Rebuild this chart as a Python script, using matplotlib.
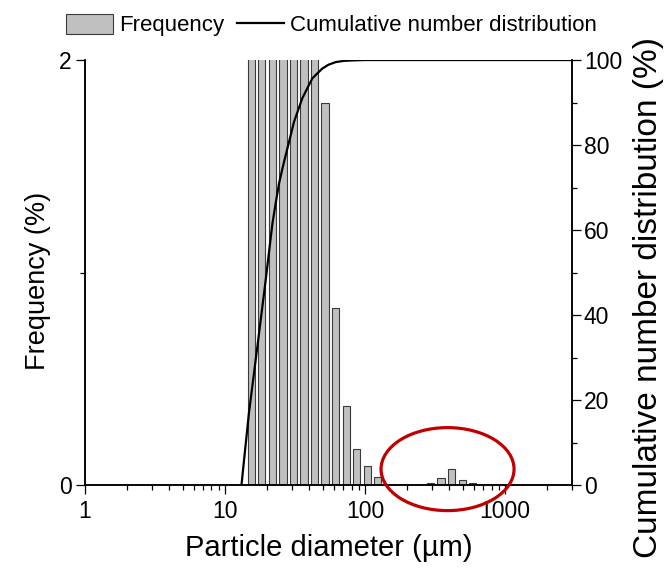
import numpy as np
import matplotlib
matplotlib.use('Agg')
import matplotlib.pyplot as plt
from matplotlib.patches import Ellipse, Patch
from matplotlib.lines import Line2D
from matplotlib.ticker import LogLocator, NullFormatter, FixedLocator

plt.rcParams['font.family'] = ['Liberation Sans', 'DejaVu Sans']

# Size classes (um), quarter-octave bins
diameter = [15.4, 18.3, 21.8, 25.9, 30.8, 36.6, 43.6, 51.8, 61.6, 73.3, 87.1,
            103.6, 123.2, 146.5, 174.2, 207.2, 246.4, 293.0, 348.5, 414.4,
            492.8, 586.1]
# Frequency (%) - the first seven bars run off the top of the axis
frequency = [16.0, 25.0, 20.0, 14.0, 9.0, 5.5, 3.5, 1.80, 0.834, 0.372, 0.170,
             0.090, 0.040, 0.0, 0.0, 0.0, 0.0, 0.008, 0.035, 0.075, 0.025, 0.008]

# Cumulative number distribution (%)
cum_d = [13.1, 14.8, 17.0, 19.5, 21.8, 23.2, 24.3, 25.7, 27.1, 31.1, 35.6,
         42.0, 49.5, 54.8, 61.5, 70.2, 80.9, 100.7, 3000]
cum_v = [0.0, 16.9, 32.5, 48.2, 61.6, 67.1, 71.0, 74.5, 77.6, 85.5, 91.0,
         95.7, 98.0, 98.9, 99.5, 99.8, 99.9, 100.0, 100.0]

fig = plt.figure(figsize=(6.66, 5.7), dpi=100)
ax = fig.add_axes([0.1276, 0.1491, 0.7313, 0.7456])
ax2 = ax.twinx()

d = np.array(diameter)
half = 10 ** 0.026
left = d / half
width = d * half - left
ax.bar(left, frequency, width=width, align='edge', color='#c0c0c0',
       edgecolor='#3a3a3a', linewidth=0.8, zorder=2)

ax2.plot(cum_d, cum_v, color='black', linewidth=1.6, zorder=3)

ax.set_xscale('log')
ax.set_xlim(1, 3000)
ax.set_ylim(0, 2)
ax2.set_ylim(0, 100)

ax.xaxis.set_major_locator(FixedLocator([1, 10, 100, 1000]))
ax.set_xticklabels(['1', '10', '100', '1000'])
ax.xaxis.set_minor_locator(LogLocator(base=10, subs=np.arange(2, 10)))
ax.xaxis.set_minor_formatter(NullFormatter())

ax.set_yticks([0, 2])
ax.set_yticks([1], minor=True)
ax2.set_yticks([0, 20, 40, 60, 80, 100])
ax2.set_yticks([10, 30, 50, 70, 90], minor=True)

for a in (ax, ax2):
    a.spines['top'].set_visible(False)
    for s in a.spines.values():
        s.set_linewidth(1.1)
    a.tick_params(which='major', length=6.5, width=0.9, labelsize=16.5,
                  direction='out')
    a.tick_params(which='minor', length=3.6, width=0.9, direction='out')
ax.tick_params(axis='y', pad=3)
ax2.tick_params(axis='y', pad=2)
ax.tick_params(axis='x', pad=4)

ax.set_xlabel('Particle diameter (\u00b5m)', fontsize=21, labelpad=8)
ax.set_ylabel('Frequency (%)', fontsize=19.5)
ax.yaxis.set_label_coords(-0.07, 0.48)
ax2.set_ylabel('Cumulative number distribution (%)', fontsize=24)
ax2.yaxis.set_label_coords(1.125, 0.442)

handles = [Patch(facecolor='#c0c0c0', edgecolor='#3a3a3a', linewidth=0.8),
           Line2D([], [], color='black', linewidth=1.6)]
fig.legend(handles, ['Frequency', 'Cumulative number distribution'],
           loc='center', bbox_to_anchor=(0.498, 0.956), ncol=2, frameon=False,
           fontsize=16, handlelength=2.1, handleheight=1.0,
           handletextpad=0.3, columnspacing=0.55)

ell = Ellipse((0.672, 0.177), 0.1997, 0.1456, transform=fig.transFigure,
              fill=False, edgecolor='#c00000', linewidth=2.3, zorder=10)
fig.patches.append(ell)

fig.savefig('out.png', dpi=100)
